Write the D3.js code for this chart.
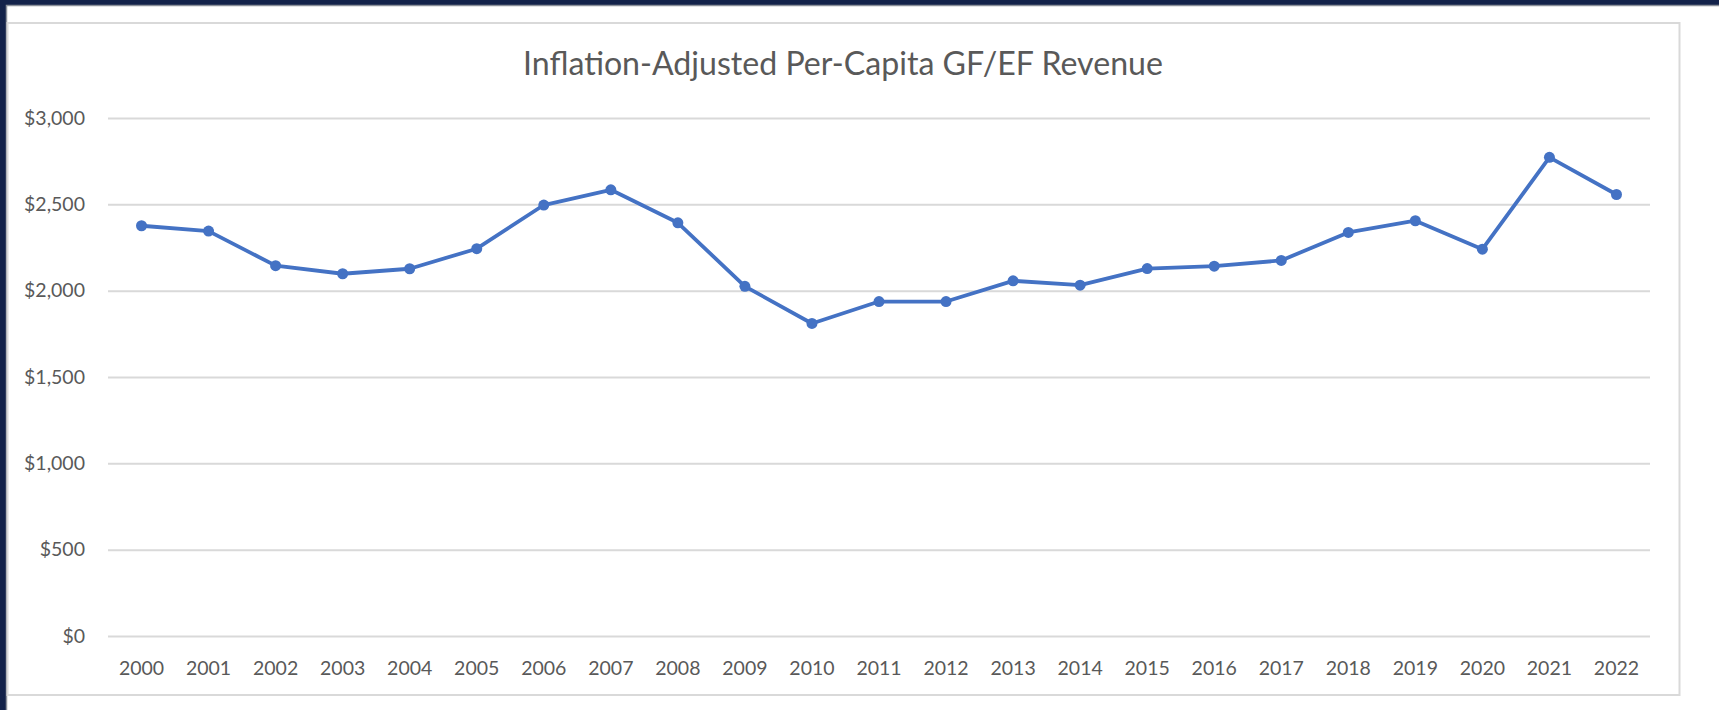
<!DOCTYPE html>
<html lang="en">
<head>
    <meta charset="UTF-8">
    <title>Inflation-Adjusted Per-Capita GF/EF Revenue</title>
    <script src="https://d3js.org/d3.v7.min.js"></script>
    <style>
        body { margin: 0; background: #13224a; }
        svg { display: block; }
        text { font-family: Lato, "Open Sans", sans-serif; fill: #595959; }
    </style>
</head>
<body>
    <svg width="1719" height="710"></svg>
    <script>
        // data
        var years = ["2000", "2001", "2002", "2003", "2004", "2005", "2006", "2007",
            "2008", "2009", "2010", "2011", "2012", "2013", "2014", "2015",
            "2016", "2017", "2018", "2019", "2020", "2021", "2022"];
        var revenue = [2376, 2345, 2145, 2098, 2127, 2243, 2496, 2584,
            2393, 2025, 1810, 1937, 1937, 2057, 2032, 2128,
            2142, 2175, 2337, 2405, 2240, 2772, 2557];
        var yTicks = [0, 500, 1000, 1500, 2000, 2500, 3000];
        var chartTitle = "Inflation-Adjusted Per-Capita GF/EF Revenue";

        var svg = d3.select("svg");

        // white sheet behind the chart, with the thin grey edge
        svg.append("rect")
            .attr("x", 6.5).attr("y", 5.5)
            .attr("width", 1719).attr("height", 710)
            .attr("fill", "#fff")
            .attr("stroke", "#8a8f99").attr("stroke-width", 1.5);

        // chart border
        svg.append("rect")
            .attr("x", 7.5).attr("y", 23)
            .attr("width", 1672).attr("height", 672)
            .attr("fill", "#fff")
            .attr("stroke", "#d9d9d9").attr("stroke-width", 2);

        var plotLeft = 108, plotRight = 1650, plotTop = 118, plotBottom = 636;

        var x = d3.scaleBand().domain(years).range([plotLeft, plotRight]).padding(0);
        var y = d3.scaleLinear().domain([0, 3000]).range([plotBottom, plotTop]);

        var yAxis = svg.append("g")
            .attr("transform", "translate(" + plotLeft + ",0)")
            .call(d3.axisLeft(y)
                .tickValues(yTicks)
                .tickFormat(d3.format("$,"))
                .tickSize(-(plotRight - plotLeft))
                .tickPadding(23));
        yAxis.select(".domain").remove();
        yAxis.selectAll("line").attr("stroke", "#d9d9d9").attr("stroke-width", 2);
        yAxis.selectAll("text")
            .attr("font-size", "19.5px")
            .attr("font-family", "Lato, sans-serif")
            .attr("fill", "#595959");

        var xAxis = svg.append("g")
            .attr("transform", "translate(0," + plotBottom + ")")
            .call(d3.axisBottom(x).tickSize(0).tickPadding(25));
        xAxis.select(".domain").remove();
        xAxis.selectAll("text")
            .attr("font-size", "19.5px")
            .attr("font-family", "Lato, sans-serif")
            .attr("fill", "#595959");

        var pts = years.map(function(d, i) { return { year: d, value: revenue[i] }; });

        var line = d3.line()
            .x(function(d) { return x(d.year) + x.bandwidth() / 2; })
            .y(function(d) { return y(d.value); });

        svg.append("path")
            .datum(pts)
            .attr("fill", "none")
            .attr("stroke", "#4472c4")
            .attr("stroke-width", 3.8)
            .attr("stroke-linejoin", "round")
            .attr("d", line);

        svg.selectAll(".dot")
            .data(pts)
            .enter().append("circle")
            .attr("class", "dot")
            .attr("cx", function(d) { return x(d.year) + x.bandwidth() / 2; })
            .attr("cy", function(d) { return y(d.value); })
            .attr("r", 5.5)
            .attr("fill", "#4472c4");

        var title = svg.append("text")
            .attr("x", 843)
            .attr("y", 75)
            .attr("text-anchor", "middle")
            .attr("font-size", "30px")
            .text(chartTitle);
        // scale the title to the width it has in the picture
        var w = title.node().getComputedTextLength();
        title.attr("font-size", (30 * 640 / w) + "px");
    </script>
</body>
</html>
